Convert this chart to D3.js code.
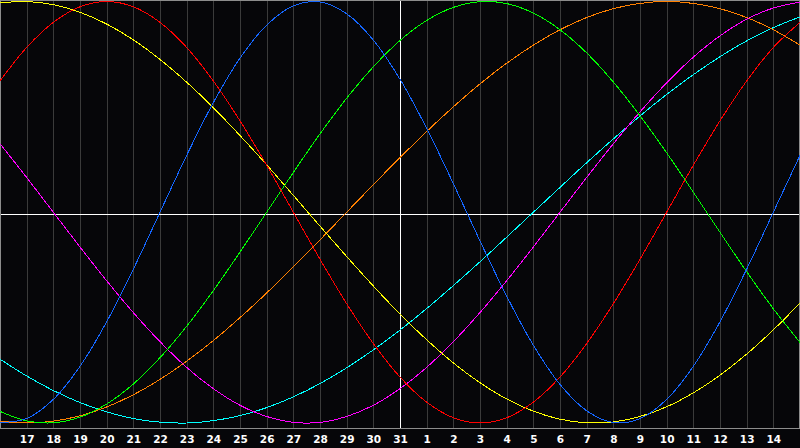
<!DOCTYPE html>
<html>
<head>
<meta charset="utf-8">
<script src="https://cdn.jsdelivr.net/npm/d3@7"></script>
<style>
  html, body { margin: 0; padding: 0; background: #060609; }
  svg { display: block; }
  .tick text { font-family: "DejaVu Sans", sans-serif; font-weight: bold; font-size: 10.5px; fill: #ffffff; }
</style>
</head>
<body>
<div id="chart"></div>
<script>
// day labels shown under the chart (16th of the month .. 15th of next month)
var dayLabels = ["16", "17", "18", "19", "20", "21", "22", "23", "24", "25", "26", "27", "28", "29", "30", "31",
  "1", "2", "3", "4", "5", "6", "7", "8", "9", "10", "11", "12", "13", "14", "15"];

// one value per day, -100 .. 100
var physical = [-99.8, -97.9, -88.8, -73.1, -52.0, -27.0, 0, 27.0, 52.0, 73.1, 88.8, 97.9, 99.8, 94.2, 81.7, 63.1,
  39.8, 13.6, -13.6, -39.8, -63.1, -81.7, -94.2, -99.8, -97.9, -88.8, -73.1, -52.0, -27.0, 0, 27.0];
var emotional = [62.3, 78.2, 90.1, 97.5, 100, 97.5, 90.1, 78.2, 62.3, 43.4, 22.3, 0, -22.3, -43.4, -62.3, -78.2,
  -90.1, -97.5, -100, -97.5, -90.1, -78.2, -62.3, -43.4, -22.3, 0, 22.3, 43.4, 62.3, 78.2, 90.1];
var intellectual = [-94.5, -99.0, -99.9, -97.2, -91.0, -81.5, -69.0, -54.1, -37.2, -18.9, 0, 18.9, 37.2, 54.1, 69.0, 81.5,
  91.0, 97.2, 99.9, 99.0, 94.5, 86.6, 75.6, 61.8, 45.8, 28.2, 9.5, -9.5, -28.2, -45.8, -61.8];
var intuitive = [32.5, 16.5, 0, -16.5, -32.5, -47.6, -61.4, -73.6, -83.7, -91.6, -96.9, -99.7, -99.7, -96.9, -91.6, -83.7,
  -73.6, -61.4, -47.6, -32.5, -16.5, 0, 16.5, 32.5, 47.6, 61.4, 73.6, 83.7, 91.6, 96.9, 99.7];
var aesthetic = [99.3, 100.0, 98.5, 94.9, 89.3, 81.8, 72.5, 61.7, 49.6, 36.4, 22.5, 8.0, -6.6, -21.0, -35.0, -48.3,
  -60.5, -71.5, -80.9, -88.6, -94.4, -98.2, -99.9, -99.5, -96.9, -92.3, -85.7, -77.3, -67.3, -55.8, -43.1];
var awareness = [-99.1, -100, -99.1, -96.6, -92.4, -86.6, -79.3, -70.7, -60.9, -50.0, -38.3, -25.9, -13.1, 0, 13.1, 25.9,
  38.3, 50.0, 60.9, 70.7, 79.3, 86.6, 92.4, 96.6, 99.1, 100, 99.1, 96.6, 92.4, 86.6, 79.3];
var spiritual = [-69.7, -77.7, -84.6, -90.3, -94.7, -97.9, -99.6, -100.0, -98.9, -96.5, -92.7, -87.6, -81.3, -73.8, -65.3, -55.9,
  -45.7, -34.8, -23.5, -11.8, 0, 11.8, 23.5, 34.8, 45.7, 55.9, 65.3, 73.8, 81.3, 87.6, 92.7];

var seriesNames = ["spiritual", "awareness", "aesthetic", "intuitive", "intellectual", "emotional", "physical"];
var seriesColors = ["#00ffff", "#ff8000", "#ffff00", "#ff00ff", "#00ff00", "#ff0000", "#1466ff"];
var seriesValues = [spiritual, awareness, aesthetic, intuitive, intellectual, emotional, physical];

var svgWidth = 800;
var svgHeight = 448;
var plotHeight = 428;

var svg = d3.select("#chart")
  .append("svg")
  .attr("width", svgWidth)
  .attr("height", svgHeight);

svg.append("rect")
  .attr("width", svgWidth)
  .attr("height", svgHeight)
  .attr("fill", "#060609");

var xScale = d3.scaleLinear()
  .domain([0, dayLabels.length - 1])
  .range([0, svgWidth]);

var yScale = d3.scaleLinear()
  .domain([-100, 100])
  .range([423, 1.5]);

// today = the 31st, drawn in white
var todayIndex = dayLabels.indexOf("31");
var tickIdx = d3.range(1, dayLabels.length - 1);

// day grid + labels
var xAxis = svg.append("g")
  .attr("transform", `translate(0, ${plotHeight})`)
  .call(d3.axisBottom(xScale)
    .tickValues(tickIdx)
    .tickFormat(i => dayLabels[i])
    .tickSize(-plotHeight)
    .tickPadding(0));

xAxis.select(".domain").remove();
xAxis.selectAll(".tick line")
  .attr("stroke", i => i === todayIndex ? "#ffffff" : "#3a3a3a")
  .attr("shape-rendering", "crispEdges");
xAxis.selectAll(".tick text")
  .attr("y", 15)
  .attr("dy", 0);

// middle line
svg.append("line")
  .attr("x1", 0)
  .attr("x2", svgWidth)
  .attr("y1", plotHeight / 2)
  .attr("y2", plotHeight / 2)
  .attr("stroke", "#ffffff")
  .attr("shape-rendering", "crispEdges");

// frame
svg.append("rect")
  .attr("x", 0.5)
  .attr("y", 0.5)
  .attr("width", svgWidth - 1)
  .attr("height", plotHeight)
  .attr("fill", "none")
  .attr("stroke", "#8c8c8c")
  .attr("shape-rendering", "crispEdges");

var line = d3.line()
  .x((d, i) => xScale(i))
  .y(d => yScale(d))
  .curve(d3.curveCatmullRom);

svg.append("g")
  .selectAll("path")
  .data(seriesValues)
  .enter()
  .append("path")
  .attr("class", (d, i) => seriesNames[i])
  .attr("d", line)
  .attr("fill", "none")
  .attr("stroke", (d, i) => seriesColors[i])
  .attr("stroke-width", 1)
  .attr("shape-rendering", "crispEdges");
</script>
</body>
</html>
